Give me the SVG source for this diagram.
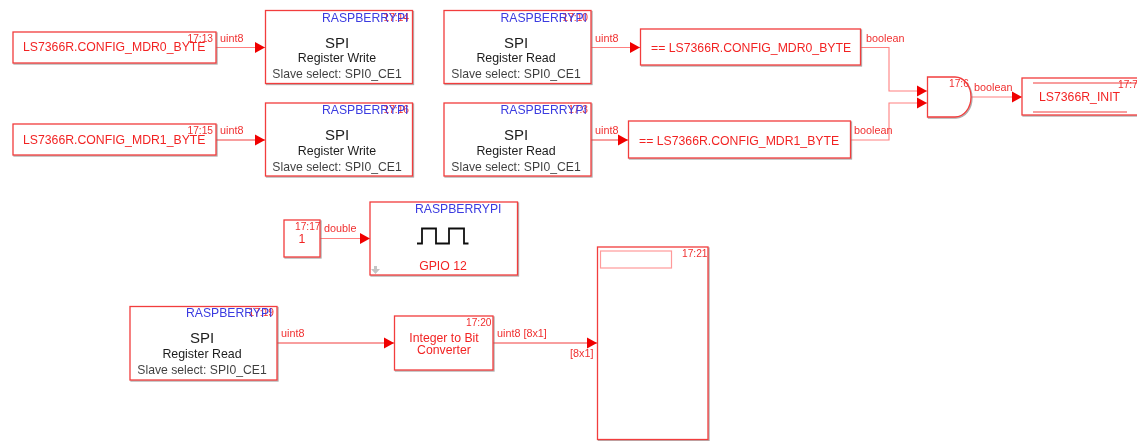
<svg xmlns="http://www.w3.org/2000/svg" width="1137" height="441" viewBox="0 0 1137 441">
<style>
text{font-family:"Liberation Sans",Arial,sans-serif}
.b{fill:#fff;stroke:#f23c3c;stroke-width:1.3;filter:url(#sh)}
.c{fill:none;stroke:#ff8080;stroke-width:1.1}
.k{fill:none;stroke:#f23c3c;stroke-width:1.1}
.r{fill:#f22424;font-size:12.250px}
.s{fill:#f03030;font-size:10.200px}
.e{text-anchor:end}
.t{fill:#f03030;font-size:10.800px}
.p{fill:#3a3ae0;font-size:12.200px}
.m{fill:#1c1c1c;text-anchor:middle}
.a{text-anchor:middle}
</style>
<defs>
<filter id="sh" x="-5%" y="-5%" width="110%" height="110%"><feDropShadow dx="1" dy="1" stdDeviation="0.7" flood-color="#777" flood-opacity="0.6"/></filter>
<filter id="soft" x="-2%" y="-2%" width="104%" height="104%"><feGaussianBlur stdDeviation="0.35"/></filter>
<marker id="ah" markerUnits="userSpaceOnUse" markerWidth="12" markerHeight="12" refX="10" refY="6" orient="auto"><path d="M0,0.500L10,6L0,11.500Z" fill="#f00000"/></marker>
</defs>
<rect width="1137" height="441" fill="#fff"/>
<g filter="url(#soft)">
<g id="connectors">
<path class="c" marker-end="url(#ah)" d="M216,47.500H265"/>
<path class="k" marker-end="url(#ah)" d="M216,140H265"/>
<path class="c" marker-end="url(#ah)" d="M591,47.500H640"/>
<path class="k" marker-end="url(#ah)" d="M591,140H628"/>
<path class="c" marker-end="url(#ah)" d="M861,47.500H889V91H927"/>
<path class="c" marker-end="url(#ah)" d="M851,140H889V103H927"/>
<path class="c" marker-end="url(#ah)" d="M971,97H1022"/>
<path class="c" marker-end="url(#ah)" d="M320,238.500H370"/>
<path class="k" marker-end="url(#ah)" d="M277,343H394"/>
<path class="k" marker-end="url(#ah)" d="M493,343H597"/>
<text class="t" x="220" y="42">uint8</text>
<text class="t" x="220" y="134">uint8</text>
<text class="t" x="595" y="42">uint8</text>
<text class="t" x="595" y="134">uint8</text>
<text class="t" x="866" y="42">boolean</text>
<text class="t" x="854" y="134">boolean</text>
<text class="t" x="974" y="91">boolean</text>
<text class="t" x="324" y="232">double</text>
<text class="t" x="281" y="337">uint8</text>
<text class="t" x="497" y="337">uint8 [8x1]</text>
<text class="t" x="570" y="357">[8x1]</text>
</g>
<g id="source0"><rect class="b" x="13" y="32" width="203" height="31"/><text class="r" x="23" y="51">LS7366R.CONFIG_MDR0_BYTE</text><text class="s e" x="213" y="42">17:13</text></g>
<g id="source1"><rect class="b" x="13" y="124" width="203" height="31"/><text class="r" x="23" y="144">LS7366R.CONFIG_MDR1_BYTE</text><text class="s e" x="213" y="134">17:15</text></g>
<g id="write0"><rect class="b" x="265.500" y="10.500" width="147" height="73"/><text class="s e" x="409" y="21">17:14</text><text class="p" x="322" y="21.500">RASPBERRYPI</text><text class="m" x="337" y="48" font-size="15">SPI</text><text class="m" x="337" y="62" font-size="12.400">Register Write</text><text class="m" x="337" y="78" font-size="12.200" fill-opacity=".85">Slave select: SPI0_CE1</text></g>
<g id="write1"><rect class="b" x="265.500" y="103" width="147" height="73"/><text class="s e" x="409" y="113">17:16</text><text class="p" x="322" y="114">RASPBERRYPI</text><text class="m" x="337" y="140" font-size="15">SPI</text><text class="m" x="337" y="155" font-size="12.400">Register Write</text><text class="m" x="337" y="171" font-size="12.200" fill-opacity=".85">Slave select: SPI0_CE1</text></g>
<g id="read0"><rect class="b" x="444" y="10.500" width="147" height="73"/><text class="s e" x="588" y="21">17:10</text><text class="p" x="500.500" y="21.500">RASPBERRYPI</text><text class="m" x="516" y="48" font-size="15">SPI</text><text class="m" x="516" y="62" font-size="12.400">Register Read</text><text class="m" x="516" y="78" font-size="12.200" fill-opacity=".85">Slave select: SPI0_CE1</text></g>
<g id="read1"><rect class="b" x="444" y="103" width="147" height="73"/><text class="s e" x="588" y="113">17:3</text><text class="p" x="500.500" y="114">RASPBERRYPI</text><text class="m" x="516" y="140" font-size="15">SPI</text><text class="m" x="516" y="155" font-size="12.400">Register Read</text><text class="m" x="516" y="171" font-size="12.200" fill-opacity=".85">Slave select: SPI0_CE1</text></g>
<g id="compare0"><rect class="b" x="640.500" y="29" width="220" height="36"/><text class="r" x="651" y="52">== LS7366R.CONFIG_MDR0_BYTE</text></g>
<g id="compare1"><rect class="b" x="628.500" y="121" width="222" height="37"/><text class="r" x="639" y="145">== LS7366R.CONFIG_MDR1_BYTE</text></g>
<g id="and"><path class="b" d="M927.500,77H955C964,77 971,86 971,97C971,108 964,117 955,117H927.500Z"/><text class="s" x="949" y="87">17:6</text></g>
<g id="init"><rect class="b" x="1022" y="78" width="125" height="37"/><path d="M1033,83H1137M1033,112H1127" fill="none" stroke="#f23c3c" stroke-width="1.2"/><text class="r" x="1039" y="101">LS7366R_INIT</text><text class="s" x="1118" y="88">17:7</text></g>
<g id="const"><rect class="b" x="284" y="220" width="36" height="37"/><text class="s" x="295" y="230">17:17</text><text class="r a" x="302" y="243">1</text></g>
<g id="gpio"><rect class="b" x="370" y="202" width="147.500" height="73"/><text class="p" x="415" y="213">RASPBERRYPI</text><path d="M417,243.500H422V228.500H436V243.500H449V228.500H464V243.500H468.500" fill="none" stroke="#111" stroke-width="1.800"/><text class="r a" x="443" y="270">GPIO 12</text><path d="M374,266H377V269H380L375.500,274L371,269H374Z" fill="#c4c4c4"/></g>
<g id="read2"><rect class="b" x="130" y="306.500" width="147" height="73.500"/><text class="s e" x="274" y="316">17:19</text><text class="p" x="186" y="317">RASPBERRYPI</text><text class="m" x="202" y="343" font-size="15">SPI</text><text class="m" x="202" y="358" font-size="12.400">Register Read</text><text class="m" x="202" y="374" font-size="12.200" fill-opacity=".85">Slave select: SPI0_CE1</text></g>
<g id="converter"><rect class="b" x="394.500" y="316" width="98.500" height="54"/><text class="s" x="466" y="326">17:20</text><text class="r a" x="444" y="342">Integer to Bit</text><text class="r a" x="444" y="354">Converter</text></g>
<g id="scope"><rect class="b" x="597.500" y="247" width="110.500" height="192.500"/><rect x="600.500" y="251" width="71" height="17" fill="#fff" stroke="#ff9a9a" stroke-width="1.200"/><text class="s" x="682" y="257">17:21</text></g>
</g>
</svg>
